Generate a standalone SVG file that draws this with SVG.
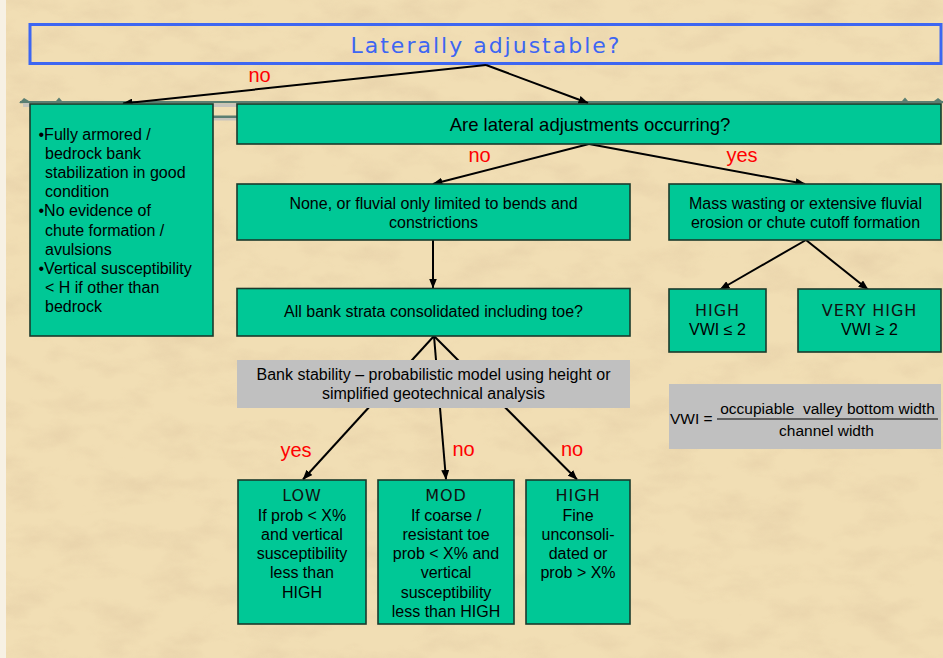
<svg xmlns="http://www.w3.org/2000/svg" width="943" height="658" viewBox="0 0 943 658">
  <defs>
    <filter id="paper" x="0" y="0" width="943" height="658" filterUnits="userSpaceOnUse">
      <feTurbulence type="fractalNoise" baseFrequency="0.02 0.04" numOctaves="4" seed="7" result="n"/>
      <feColorMatrix in="n" type="matrix" values="0 0 0 0 0.80  0 0 0 0 0.64  0 0 0 0 0.40  2.2 0 0 0 -0.95"/>
    </filter>
    <marker id="arrow" markerUnits="userSpaceOnUse" markerWidth="10" markerHeight="8" refX="9.5" refY="4" orient="auto">
      <path d="M0,0 L10,4 L0,8 Z" fill="#000"/>
    </marker>
    <style>
      .box { fill: #00C896; stroke: #1B3A2C; stroke-width: 1.6; }
      .grey { fill: #C0C0C0; stroke: none; }
      .t { font-family: "Liberation Sans", Arial, sans-serif; font-size: 16px; fill: #000; }
      .big { font-size: 18.5px; }
      .small { font-size: 15.5px; }
      .c { text-anchor: middle; }
      .title { font-family: "DejaVu Sans", Verdana, sans-serif; font-size: 16px; letter-spacing: 0.9px; fill: #111; text-anchor: middle; }
      .head { font-family: "DejaVu Sans", Verdana, sans-serif; font-size: 22px; letter-spacing: 2px; fill: #3D66F2; text-anchor: middle; }
      .lbl { font-family: "Liberation Sans", Arial, sans-serif; font-size: 20px; fill: #FF0000; text-anchor: middle; }
      .edge { stroke: #000; stroke-width: 2; fill: none; marker-end: url(#arrow); }
      .teal { fill: #5A7E72; }
      .pale { fill: #C8C4BC; }
    </style>
  </defs>

  <!-- parchment background -->
  <rect x="0" y="0" width="943" height="658" fill="#F1DEB4"/>
  <rect x="0" y="0" width="943" height="658" filter="url(#paper)" opacity="0.8"/>
  <rect x="0" y="0" width="6" height="658" fill="#F7F1E4"/>

  <!-- title banner -->
  <g id="laterally-adjustable">
    <rect x="30" y="24.5" width="911" height="39" fill="none" stroke="#3D66F2" stroke-width="3"/>
    <text class="head" x="486" y="53">Laterally adjustable?</text>
  </g>

  <!-- rule line along the top of the first row -->
  <g id="rule">
    <rect class="teal" x="20" y="101" width="923" height="2.2"/>
    <path class="teal" d="M19,103 L24,98 L29,101 L34,103 Z"/>
    <rect class="pale" x="23" y="103" width="7" height="4"/>
    <path class="teal" d="M56,101 L59,97.5 L62,101 Z"/>
    <path class="teal" d="M902,101 L905,97.5 L908,101 Z"/>
    <path class="teal" d="M934,101 L938,98 L942,101 Z"/>
    <rect class="pale" x="213" y="103.5" width="24" height="3.5"/>
    <rect class="teal" x="213" y="115.5" width="24" height="2.5"/>
    <rect class="pale" x="213" y="118" width="24" height="2.5"/>
  </g>

  <!-- connectors -->
  <g id="connectors">
    <line class="edge" x1="486" y1="65" x2="123" y2="103.5"/>
    <line class="edge" x1="486" y1="65" x2="588" y2="103"/>
    <line class="edge" x1="589" y1="144" x2="433" y2="184"/>
    <line class="edge" x1="589" y1="144" x2="805" y2="184"/>
    <line class="edge" x1="433" y1="240" x2="433" y2="288"/>
    <line class="edge" x1="806" y1="240" x2="720" y2="289.5"/>
    <line class="edge" x1="806" y1="240" x2="868" y2="289.5"/>
    <line class="edge" x1="434" y1="336" x2="303" y2="479.5"/>
    <line class="edge" x1="434" y1="336" x2="446" y2="479.5"/>
    <line class="edge" x1="434" y1="336" x2="577" y2="479.5"/>
  </g>

  <!-- branch labels -->
  <g id="labels">
    <text class="lbl" x="259.5" y="81.5">no</text>
    <text class="lbl" x="479.5" y="162">no</text>
    <text class="lbl" x="742" y="162">yes</text>
    <text class="lbl" x="296" y="456.5">yes</text>
    <text class="lbl" x="463.5" y="456">no</text>
    <text class="lbl" x="572" y="456">no</text>
  </g>

  <g id="not-adjustable">
    <rect class="box" x="30" y="104" width="183" height="232"/>
    <text class="t" x="38.5" y="139.5">•Fully armored /</text>
    <text class="t" x="45" y="158.7">bedrock bank</text>
    <text class="t" x="45" y="177.9">stabilization in good</text>
    <text class="t" x="45" y="197.1">condition</text>
    <text class="t" x="38.5" y="216.3">•No evidence of</text>
    <text class="t" x="45" y="235.5">chute formation /</text>
    <text class="t" x="45" y="254.7">avulsions</text>
    <text class="t" x="38.5" y="273.9">•Vertical susceptibility</text>
    <text class="t" x="45" y="293.1">&lt; H if other than</text>
    <text class="t" x="45" y="312.3">bedrock</text>
  </g>

  <g id="lateral-adjustments">
    <rect class="box" x="237" y="104" width="704" height="40"/>
    <text class="t big c" x="590" y="131">Are lateral adjustments occurring?</text>
  </g>

  <g id="none-or-fluvial">
    <rect class="box" x="237" y="184" width="393" height="56"/>
    <text class="t c" x="433.5" y="209">None, or fluvial only limited to bends and</text>
    <text class="t c" x="433.5" y="228">constrictions</text>
  </g>

  <g id="mass-wasting">
    <rect class="box" x="669" y="184" width="272" height="56"/>
    <text class="t c" x="805.5" y="209">Mass wasting or extensive fluvial</text>
    <text class="t c" x="805.5" y="228">erosion or chute cutoff formation</text>
  </g>

  <g id="bank-strata">
    <rect class="box" x="237" y="288.5" width="393" height="47.5"/>
    <text class="t c" x="433.5" y="317">All bank strata consolidated including toe?</text>
  </g>

  <g id="bank-stability">
    <rect class="grey" x="237" y="360" width="393" height="48"/>
    <text class="t c" x="433.5" y="380">Bank stability – probabilistic model using height or</text>
    <text class="t c" x="433.5" y="399">simplified geotechnical analysis</text>
  </g>

  <g id="high-vwi">
    <rect class="box" x="669" y="289" width="97" height="63"/>
    <text class="title" x="717.5" y="315.5">HIGH</text>
    <text class="t c" x="717.5" y="335">VWI ≤ 2</text>
  </g>

  <g id="very-high-vwi">
    <rect class="box" x="798" y="289" width="143" height="63"/>
    <text class="title" x="869.5" y="315.5">VERY HIGH</text>
    <text class="t c" x="869.5" y="335">VWI ≥ 2</text>
  </g>

  <g id="vwi-definition">
    <rect class="grey" x="669" y="384" width="272" height="65"/>
    <text class="t small" x="670" y="423.5">VWI =</text>
    <line x1="717" y1="419" x2="938" y2="419" stroke="#000" stroke-width="1"/>
    <text class="t small c" x="827.5" y="413.5" xml:space="preserve">occupiable  valley bottom width</text>
    <text class="t small c" x="826.5" y="436">channel width</text>
  </g>

  <g id="low">
    <rect class="box" x="238" y="480" width="128" height="144"/>
    <text class="title" x="302" y="500.5">LOW</text>
    <text class="t c" x="302" y="520.5">If prob &lt; X%</text>
    <text class="t c" x="302" y="539.8">and vertical</text>
    <text class="t c" x="302" y="559.1">susceptibility</text>
    <text class="t c" x="302" y="578.4">less than</text>
    <text class="t c" x="302" y="597.7">HIGH</text>
  </g>

  <g id="mod">
    <rect class="box" x="378" y="480" width="136" height="144"/>
    <text class="title" x="446" y="500.5">MOD</text>
    <text class="t c" x="446" y="520.5">If coarse /</text>
    <text class="t c" x="446" y="539.8">resistant toe</text>
    <text class="t c" x="446" y="559.1">prob &lt; X% and</text>
    <text class="t c" x="446" y="578.4">vertical</text>
    <text class="t c" x="446" y="597.7">susceptibility</text>
    <text class="t c" x="446" y="617">less than HIGH</text>
  </g>

  <g id="high">
    <rect class="box" x="526" y="480" width="104" height="144"/>
    <text class="title" x="578" y="500.5">HIGH</text>
    <text class="t c" x="578" y="520.5">Fine</text>
    <text class="t c" x="578" y="539.8">unconsoli-</text>
    <text class="t c" x="578" y="559.1">dated or</text>
    <text class="t c" x="578" y="578.4">prob &gt; X%</text>
  </g>
</svg>
